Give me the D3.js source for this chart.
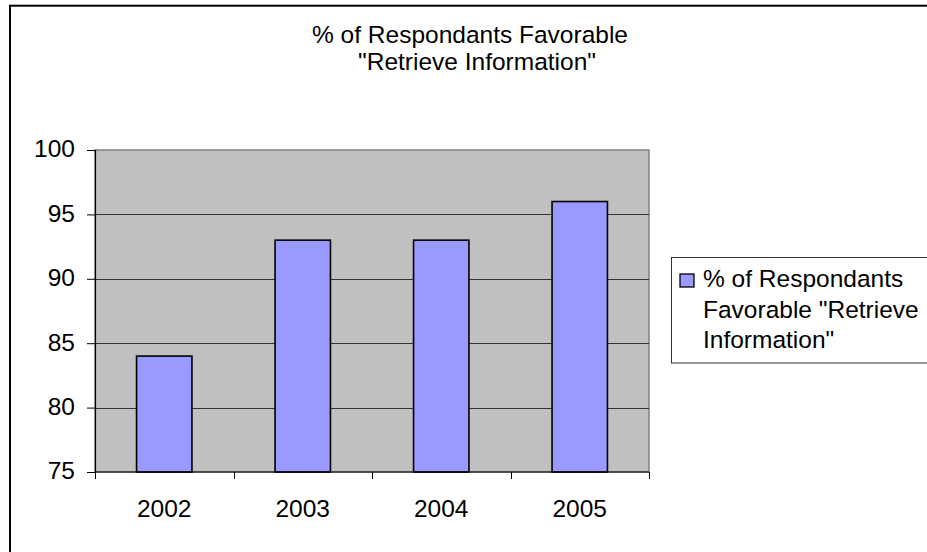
<!DOCTYPE html>
<html>
<head>
<meta charset="utf-8">
<script src="https://cdn.jsdelivr.net/npm/d3@7"></script>
<style>
  html, body { margin: 0; padding: 0; background: #fff; }
  svg { display: block; font-family: "Liberation Sans", Arial, sans-serif; }
</style>
</head>
<body>
<svg id="chart" width="927" height="552"></svg>
<script>
// Survey results by year
const years = ["2002", "2003", "2004", "2005"];
const favorable = [84, 93, 93, 96];
const yTicks = [75, 80, 85, 90, 95, 100];
const titleLines = ["% of Respondants Favorable", "\"Retrieve Information\""];
const legendLines = ["% of Respondants", "Favorable \"Retrieve", "Information\""];

const svg = d3.select("#chart");
const fs = 24.5;

// Outer frame
svg.append("rect")
  .attr("x", 10).attr("y", 5.7)
  .attr("width", 940).attr("height", 560)
  .attr("fill", "#fff").attr("stroke", "#000").attr("stroke-width", 2);

// Plot area
const plot = { left: 95, top: 150, right: 649, bottom: 472 };
const x = d3.scaleBand().domain(years).range([plot.left, plot.right]).paddingInner(0.6).paddingOuter(0.3);
const xOuter = d3.scaleBand().domain(years).range([plot.left, plot.right]);
const y = d3.scaleLinear().domain([75, 100]).range([plot.bottom, plot.top]);

svg.append("rect")
  .attr("x", plot.left).attr("y", plot.top)
  .attr("width", plot.right - plot.left).attr("height", plot.bottom - plot.top)
  .attr("fill", "#c0c0c0").attr("stroke", "#808080").attr("stroke-width", 1.5);

// Horizontal gridlines
svg.append("g").selectAll("line")
  .data(yTicks.filter(t => t > 75 && t < 100))
  .join("line")
  .attr("x1", plot.left).attr("x2", plot.right)
  .attr("y1", d => Math.round(y(d)) + 0.5).attr("y2", d => Math.round(y(d)) + 0.5)
  .attr("stroke", "#333").attr("stroke-width", 1);

// Bars
svg.append("g").selectAll("rect")
  .data(favorable)
  .join("rect")
  .attr("x", (d, i) => x(years[i]))
  .attr("y", d => y(d))
  .attr("width", x.bandwidth())
  .attr("height", d => y(75) - y(d))
  .attr("fill", "#9999ff")
  .attr("stroke", "#000").attr("stroke-width", 1.6);

// Y axis
const yAxis = d3.axisLeft(y).tickValues(yTicks).tickSize(8).tickPadding(12).tickFormat(d3.format("d"));
const gy = svg.append("g").attr("transform", `translate(${plot.left},0)`).call(yAxis);
gy.select(".domain").attr("stroke", "#000").attr("stroke-width", 1.2);
gy.selectAll(".tick line").attr("stroke", "#000");
gy.selectAll(".tick text")
  .attr("font-size", fs).attr("fill", "#000")
  .attr("font-family", "'Liberation Sans', Arial, sans-serif")
  .attr("dy", "0.28em");

// X axis with ticks at category boundaries
const gx = svg.append("g").attr("transform", `translate(0,${plot.bottom})`);
gx.append("line")
  .attr("x1", plot.left).attr("x2", plot.right)
  .attr("y1", 0).attr("y2", 0)
  .attr("stroke", "#000").attr("stroke-width", 1.2);
const bounds = years.map(c => xOuter(c)).concat([plot.right]);
gx.selectAll("line.tk")
  .data(bounds)
  .join("line").attr("class", "tk")
  .attr("x1", d => Math.round(d) + 0.5).attr("x2", d => Math.round(d) + 0.5)
  .attr("y1", 0).attr("y2", 7)
  .attr("stroke", "#000");
gx.selectAll("text")
  .data(years)
  .join("text")
  .attr("x", d => xOuter(d) + xOuter.bandwidth() / 2)
  .attr("y", 45)
  .attr("text-anchor", "middle")
  .attr("font-size", fs)
  .text(d => d);

// Title
svg.append("g").selectAll("text")
  .data(titleLines)
  .join("text")
  .attr("x", (d, i) => i === 0 ? 470 : 477)
  .attr("y", (d, i) => 43 + i * 27)
  .attr("text-anchor", "middle")
  .attr("font-size", fs)
  .text(d => d);

// Legend
const lg = svg.append("g");
lg.append("rect")
  .attr("x", 671.5).attr("y", 257.5)
  .attr("width", 300).attr("height", 105.5)
  .attr("fill", "#fff").attr("stroke", "#333").attr("stroke-width", 1);
lg.append("rect")
  .attr("x", 680).attr("y", 274)
  .attr("width", 14).attr("height", 13)
  .attr("fill", "#9999ff").attr("stroke", "#000").attr("stroke-width", 1.3);
lg.selectAll("text")
  .data(legendLines)
  .join("text")
  .attr("x", 703)
  .attr("y", (d, i) => 287 + i * 30.5)
  .attr("font-size", fs)
  .text(d => d);
</script>
</body>
</html>
